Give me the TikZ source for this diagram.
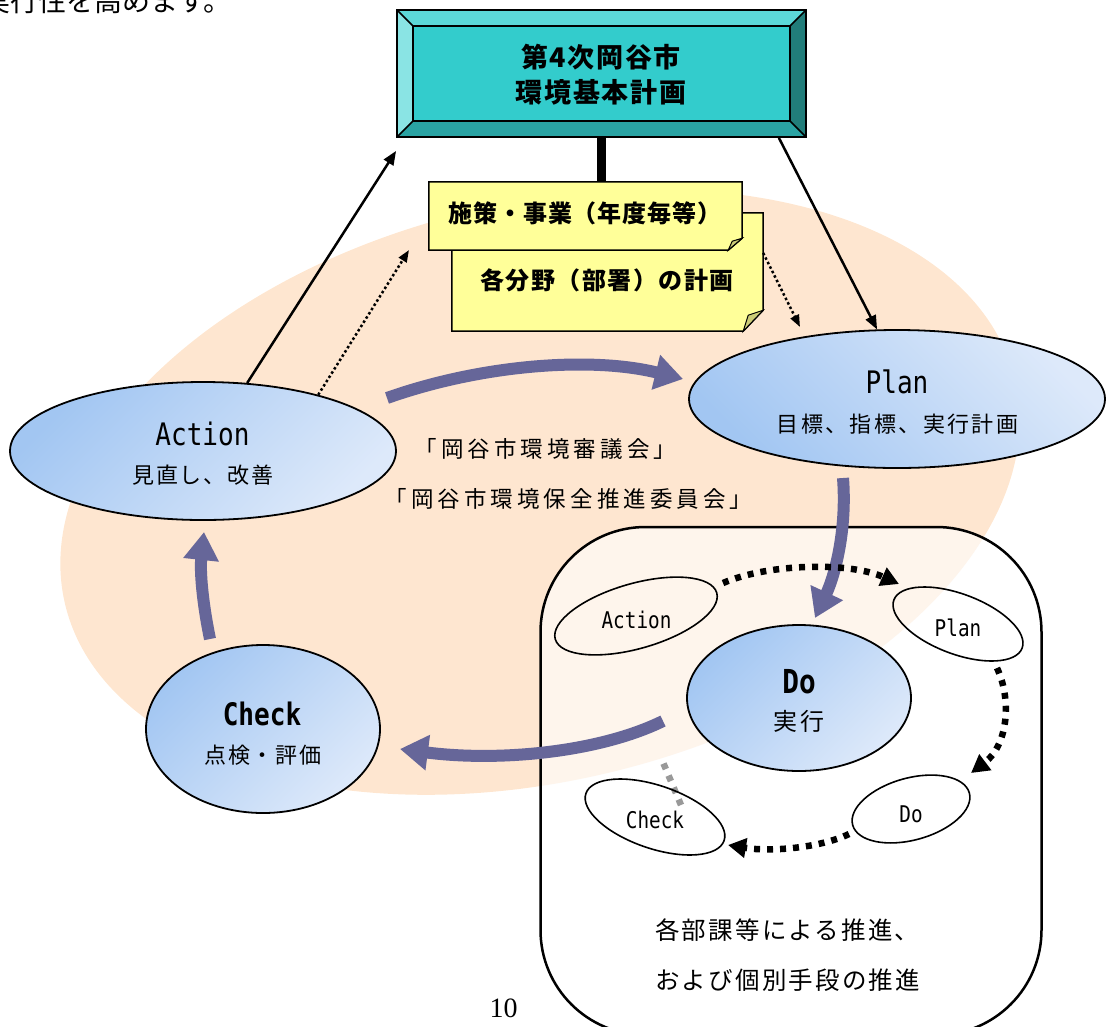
\documentclass[tikz,border=0pt]{standalone}
\usepackage{fontspec}
\setmainfont{Noto Sans CJK JP}
\newfontfamily\jp{Noto Sans CJK JP}
\newfontfamily\latm{DejaVu Sans Mono}[FakeStretch=0.84]
\newfontfamily\pnum{Liberation Serif}
\usetikzlibrary{arrows.meta,shapes.geometric}
\newcommand\myfs[1]{\fontsize{#1pt}{#1pt}\selectfont}
\newcommand\ls[1]{\addfontfeatures{LetterSpace=#1}}
\definecolor{peach}{HTML}{FEE6D0}
\definecolor{pur}{HTML}{666699}
\definecolor{blueD}{HTML}{A2C6F2}
\definecolor{blueL}{HTML}{DDE9FA}
\definecolor{noteY}{HTML}{FFFF99}
\definecolor{noteF}{HTML}{CCCC77}
\definecolor{cyF}{HTML}{33CCCC}
\definecolor{cyT}{HTML}{5CD8D8}
\definecolor{cyL}{HTML}{8AE4E4}
\definecolor{cyR}{HTML}{217D7A}
\definecolor{cyB}{HTML}{2AA3A3}
\tikzset{
  bell/.style={ellipse, draw, line width=1.8pt, inner sep=0pt, top color=blueD, bottom color=blueL, shading angle=45},
  sell/.style={ellipse, draw, line width=1.6pt, inner sep=0pt},
  pa/.style={draw=pur, line width=12pt, -{Triangle[length=28pt,width=34pt]}},
  cyc/.style={line width=6.5pt, dash pattern=on 6pt off 7pt, -{Triangle[length=18pt,width=19pt]}},
  ba/.style={line width=2.5pt, -{Triangle[length=14pt,width=11pt]}},
  da/.style={line width=2.5pt, dash pattern=on 2.5pt off 2.5pt, -{Triangle[length=12pt,width=9pt]}},
  txt/.style={inner sep=0pt, anchor=base},
  latbig/.style={txt, font=\latm\myfs{31}},
  latsm/.style={txt, font=\latm\myfs{23}},
  jpell/.style={txt, font=\jp\myfs{22}\ls{9}},
}
\begin{document}
\begin{tikzpicture}[x=1pt,y=-1pt]
\useasboundingbox (0,0) rectangle (1108,1026);
% hidden part of the small cycle (under peach and box veil)
\coordinate (hc1) at (681,805);
\coordinate (hc2) at (646,722);
\draw[line width=6.5pt, dash pattern=on 6pt off 7pt] (hc1) -- (hc2);
% peach background
\fill[peach, rotate around={13.25:(540,492)}] (540,492) ellipse [x radius=488pt, y radius=289pt];
% rounded box
\node[draw, line width=2.5pt, rounded corners=105pt, fill=white, fill opacity=0.6, minimum width=501pt, minimum height=508pt, inner sep=0pt] (dobox) at (791,781) {};
% top bevel box
\fill[cyT] (397,10) -- (806,10) -- (790,26) -- (413,26) -- cycle;
\fill[cyL] (397,10) -- (413,26) -- (413,121) -- (397,137) -- cycle;
\fill[cyR] (806,10) -- (806,137) -- (790,121) -- (790,26) -- cycle;
\fill[cyB] (397,137) -- (806,137) -- (790,121) -- (413,121) -- cycle;
\fill[cyF] (413,26) rectangle (790,121);
\draw[line width=1.8pt] (413,26) rectangle (790,121);
\draw[line width=1.5pt] (397,10) -- (413,26) (806,10) -- (790,26) (806,137) -- (790,121) (397,137) -- (413,121);
\node[draw, line width=1.8pt, minimum width=409pt, minimum height=127pt, inner sep=0pt] (top) at (601.5,73.5) {};
\node[txt, font=\jp\bfseries\myfs{27}\ls{6}] (toptxt1) at (601,67) {第4次岡谷市};
\node[txt, font=\jp\bfseries\myfs{27}\ls{6}] (toptxt2) at (601,102) {環境基本計画};
% notes
\node[minimum width=311pt, minimum height=118pt, inner sep=0pt] (note2) at (607.5,272) {};
\node[minimum width=313pt, minimum height=68pt, inner sep=0pt] (note1) at (585.5,216) {};
\draw[line width=9pt] (top.south) -- (top.south |- note1.north);
\filldraw[fill=noteY, line width=1.5pt] (note2.north west) -- (note2.north east) -- ([yshift=21pt]note2.south east) -- ([xshift=-20pt]note2.south east) -- (note2.south west) -- cycle;
\filldraw[fill=noteF, line width=1pt] ([yshift=21pt]note2.south east) -- ([xshift=-20pt]note2.south east) -- ([xshift=-15pt,yshift=16pt]note2.south east) -- cycle;
\filldraw[fill=noteY, line width=1.5pt] (note1.north west) -- (note1.north east) -- ([yshift=12pt]note1.south east) -- ([xshift=-14pt]note1.south east) -- (note1.south west) -- cycle;
\filldraw[fill=noteF, line width=1pt] ([yshift=12pt]note1.south east) -- ([xshift=-14pt]note1.south east) -- ([xshift=-10pt,yshift=9pt]note1.south east) -- cycle;
\node[txt, font=\jp\bfseries\myfs{24}\ls{4}] (n1t) at (585,222) {施策・事業（年度毎等）};
\node[txt, font=\jp\bfseries\myfs{24}\ls{6}] (n2t) at (607,289) {各分野（部署）の計画};
% big ellipses
\node[bell, minimum width=386pt, minimum height=138pt] (action) at (203,451) {};
\node[bell, shading angle=135, minimum width=416pt, minimum height=138pt] (plan) at (897,399) {};
\node[bell, minimum width=234pt, minimum height=168pt] (check) at (263,729) {};
\node[bell, minimum width=224pt, minimum height=146pt] (do) at (799,698) {};
% thin arrows
\coordinate (dA) at (409,250);
\coordinate (dP) at (800,327);
\draw[ba] (action.57) -- ([yshift=-13pt]top.south west);
\draw[ba] ([xshift=-28pt]top.south east) -- (plan.106);
\draw[da] (action.26) -- (dA);
\draw[da] ([yshift=19pt]note2.east) -- (dP);
% purple arrows
\coordinate (p1a) at (387,398); \coordinate (p1b) at (683,379);
\coordinate (p2a) at (843,478); \coordinate (p2b) at (815,618);
\coordinate (p3a) at (663,721); \coordinate (p3b) at (400,749);
\coordinate (p4a) at (210,639); \coordinate (p4b) at (204,532);
\draw[pa] (p1a) .. controls (480,365) and (590,356) .. (p1b);
\draw[pa] (p2a) .. controls (847,530) and (835,575) .. (p2b);
\draw[pa] (p3a) .. controls (600,752) and (500,762) .. (p3b);
\draw[pa] (p4a) .. controls (202,600) and (200,570) .. (p4b);
% small ellipses
\node[sell, rotate=16, minimum width=168pt, minimum height=65pt] (sa) at (636,616) {};
\node[sell, rotate=-20.6, minimum width=137pt, minimum height=60pt] (sp) at (958,624) {};
\node[sell, rotate=15.4, minimum width=121pt, minimum height=62pt] (sd) at (911,809) {};
\node[sell, rotate=-18.8, minimum width=146pt, minimum height=63pt] (sc) at (655,817) {};
% small cycle arrows
\coordinate (c1a) at (723,583); \coordinate (c1b) at (899,584);
\coordinate (c2a) at (997,668); \coordinate (c2b) at (971,773);
\coordinate (c3a) at (849,834); \coordinate (c3b) at (728,845);
\draw[cyc] (c1a) .. controls (770,563) and (850,562) .. (c1b);
\draw[cyc] (c2a) .. controls (1012,700) and (1008,745) .. (c2b);
\draw[cyc] (c3a) .. controls (820,848) and (770,852) .. (c3b);
% texts in ellipses
\node[latbig] (tA) at (202.5,445) {Action};
\node[jpell] (tA2) at (203,483) {見直し、改善};
\node[latbig] (tP) at (897,393) {Plan};
\node[jpell, font=\jp\myfs{22}\ls{11}] (tP2) at (897.5,432) {目標、指標、実行計画};
\node[latbig, font=\latm\bfseries\myfs{31}] (tC) at (262,725) {Check};
\node[jpell] (tC2) at (263,763) {点検・評価};
\node[latbig, font=\latm\bfseries\myfs{33}] (tD) at (799,693) {Do};
\node[jpell, font=\jp\myfs{24}\ls{12}] (tD2) at (799,730) {実行};
\node[latsm] (sAt) at (636.5,628) {Action};
\node[latsm] (sPt) at (958,636) {Plan};
\node[latsm] (sDt) at (911,822) {Do};
\node[latsm] (sCt) at (655,828) {Check};
% center texts
\node[txt, anchor=base west, font=\jp\myfs{22.5}\ls{18}] (cm1) at (414.5,457) {「岡谷市環境審議会」};
\node[txt, anchor=base west, font=\jp\myfs{22.5}\ls{18}] (cm2) at (384.5,507) {「岡谷市環境保全推進委員会」};
% box texts
\node[txt, anchor=base west, font=\jp\myfs{24.5}\ls{9}] (bx1) at (655,939) {各部課等による推進、};
\node[txt, anchor=base west, font=\jp\myfs{24.5}\ls{9}] (bx2) at (655,989) {および個別手段の推進};
% top-left cut text
\node[txt, anchor=base west, font=\jp\myfs{28}] (tl) at (-18,11) {実行性を高めます。};
% page number
\node[txt, font=\pnum\myfs{28}] (pg) at (503.5,1017) {10};
\end{tikzpicture}
\end{document}
